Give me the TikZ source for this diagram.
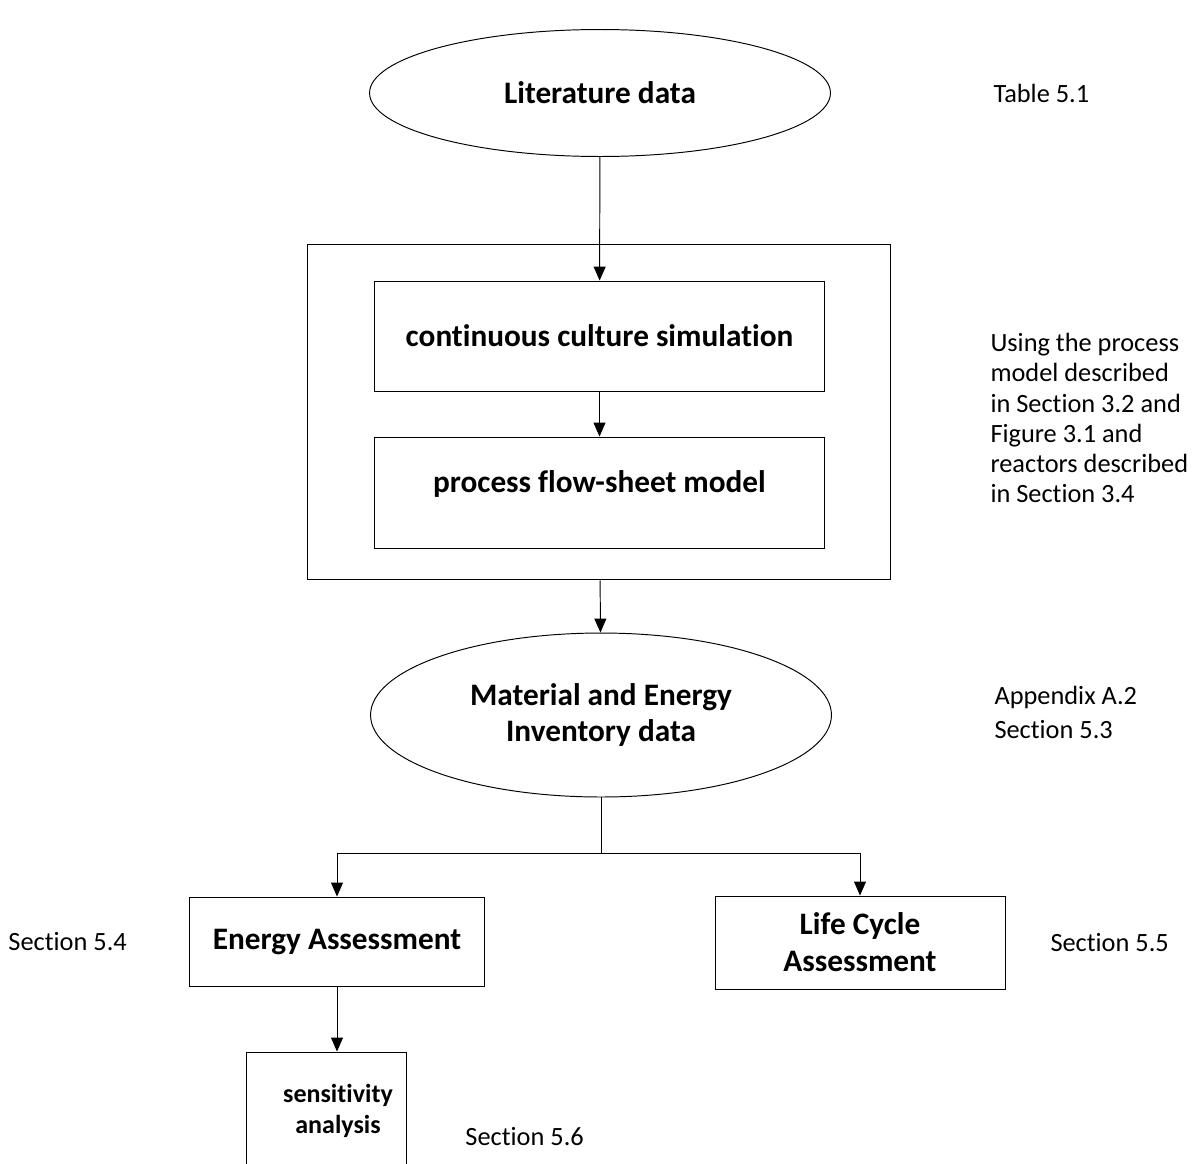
\documentclass[tikz,border=0pt]{standalone}
\usepackage{fontspec}
\setmainfont{Carlito}[RawFeature=-liga]
\usetikzlibrary{shapes.geometric,arrows.meta}

\tikzset{
  arr/.style={-{Triangle[length=0.28cm,width=0.24cm]}},
  bigbold/.style={font=\bfseries\fontsize{17.8}{21}\selectfont},
  datanode/.style={draw, ellipse, inner sep=0pt, align=center, bigbold},
  stepbox/.style={draw, rectangle, inner sep=0pt, align=center, bigbold},
  note/.style={anchor=west, inner sep=0pt, align=left,
    font=\fontsize{15}{17.1}\selectfont}
}

\begin{document}
\begin{tikzpicture}[x=0.02cm, y=-0.02cm, line width=0.55pt]

\useasboundingbox (0,0) rectangle (1195,1163);

% data sources
\node[datanode, minimum width=9.22cm, minimum height=2.54cm] (lit) at (600,93)
{Literature data};

\node[draw, rectangle, minimum width=11.68cm, minimum height=6.72cm] (model) at (599,412) {};

\node[stepbox, minimum width=9.02cm, minimum height=2.2cm] (sim) at (599.5,336)
{continuous culture simulation};

\node[stepbox, minimum width=9.02cm, minimum height=2.22cm] (pfs) at (599.5,492.5)
{\raisebox{0.44cm}{process flow-sheet model}};

\node[datanode, minimum width=9.22cm, minimum height=3.28cm] (inv) at (601,715)
{Material and Energy\\Inventory data};

\coordinate (split) at (601,853);

% assessments
\node[stepbox, minimum width=5.92cm, minimum height=1.78cm] (ener) at (337,941.5)
{Energy Assessment};

\node[stepbox, minimum width=5.8cm, minimum height=1.86cm] (lca) at (860,942.5)
{Life Cycle\\Assessment};

\node[stepbox, minimum width=3.2cm, minimum height=2.4cm,
  font=\bfseries\fontsize{14.8}{17.6}\selectfont] (sens) at (326,1112)
{\hspace*{0.48cm}\raisebox{0.09cm}{\begin{tabular}{@{}c@{}}sensitivity\\analysis\end{tabular}}};

% references
\node[note] (t51) at (993,93) {Table 5.1};
\node[note] (s32) at (990,418)
{Using the process\\model described\\in Section 3.2 and\\Figure 3.1 and\\reactors described\\in Section 3.4};
\node[note, font=\fontsize{15}{19.4}\selectfont] (a2) at (994,712) {Appendix A.2\\Section 5.3};
\node[note] (s54) at (8,942) {Section 5.4};
\node[note] (s55) at (1050,943) {Section 5.5};
\node[note] (s56) at (465,1137) {Section 5.6};

\draw[arr] (lit) -- (sim);
\draw[arr] (sim) -- (pfs);
\draw[arr] (model) -- (inv);
\draw (inv.south) -- (split);
\draw[arr] (split) -| (ener.north);
\draw[arr] (split) -| (lca.north);
\draw[arr] (ener.south) -- (ener.south |- sens.north);

\end{tikzpicture}
\end{document}
